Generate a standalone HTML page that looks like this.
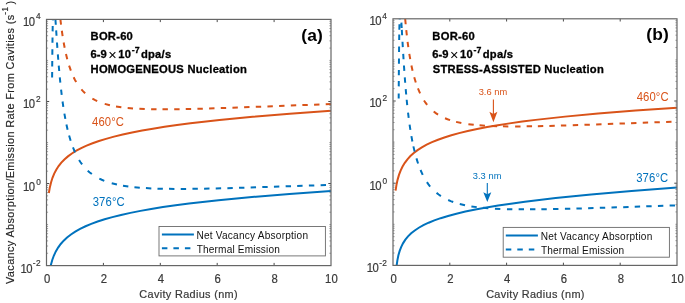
<!DOCTYPE html>
<html><head><meta charset="utf-8"><style>
html,body{margin:0;padding:0;background:#fff;width:685px;height:303px;overflow:hidden}
svg{display:block;filter:blur(0.3px)}
text{font-family:"Liberation Sans",sans-serif}
</style></head><body>
<svg width="685" height="303" viewBox="0 0 685 303">
<rect width="685" height="303" fill="#fff"/>
<clipPath id="clipL"><rect x="46.5" y="19.4" width="284.50" height="246.20"/></clipPath>
<g clip-path="url(#clipL)" fill="none" stroke-width="2">
<path d="M48.85,276.23 L49.75,270.25 L50.88,264.87 L52.26,259.97 L53.89,255.53 L55.82,251.42 L58.11,247.56 L60.73,243.98 L63.67,240.67 L67.07,237.51 L70.95,234.48 L75.26,231.64 L80.09,228.92 L85.56,226.28 L91.25,223.90 L97.61,221.57 L104.64,219.31 L112.35,217.12 L121.05,214.94 L130.43,212.86 L140.47,210.87 L151.19,208.96 L162.91,207.09 L175.63,205.25 L189.03,203.50 L218.49,200.16 L251.98,196.98 L289.48,193.97 L331.00,191.12" stroke="#0072BD"/>
<path d="M48.85,193.01 L49.83,187.43 L51.03,182.43 L52.49,177.81 L54.21,173.61 L56.26,169.67 L58.60,166.06 L61.32,162.63 L64.39,159.44 L67.93,156.38 L71.88,153.49 L76.35,150.72 L81.20,148.14 L86.56,145.67 L92.59,143.26 L98.95,141.02 L105.98,138.84 L114.02,136.64 L122.73,134.52 L132.10,132.49 L142.15,130.54 L152.86,128.67 L164.58,126.82 L176.97,125.04 L190.36,123.29 L219.50,119.97 L252.65,116.77 L289.81,113.71 L331.00,110.78" stroke="#D95319"/>
<path d="M52.12,77.51 L52.17,72.11 M52.21,66.47 L52.26,61.07 M52.32,54.64 L52.38,49.24 M52.46,42.83 L52.53,37.43 M52.62,31.37 L52.71,25.97 M52.83,20.37 L52.97,14.97 M53.18,9.37 L53.38,5.99 L53.61,3.99 M54.59,8.41 L55.03,13.79 M55.43,19.38 L55.79,24.76 M56.17,30.38 L56.52,35.77 M56.98,42.47 L57.36,47.86 M57.84,54.38 L58.26,59.76 M58.74,65.60 L59.21,70.98 M59.79,77.29 L60.33,82.66 M61.08,89.61 L61.71,94.97 M62.55,101.49 L63.31,106.83 M64.39,113.62 L65.34,118.94 M66.43,124.42 L67.61,129.69 M69.11,135.59 L70.64,140.76 M72.97,147.42 L75.06,152.40 M79.07,159.95 L80.53,162.21 L82.11,164.41 M87.71,170.63 L89.74,172.42 L91.86,174.08 M99.34,178.62 L101.78,179.77 L104.28,180.80 M111.72,183.26 L116.96,184.55 M122.99,185.71 L128.33,186.51 M134.43,187.22 L139.81,187.70 M145.93,188.12 L151.33,188.40 M157.48,188.63 L162.87,188.77 M169.02,188.87 L174.42,188.91 M180.73,188.92 L186.13,188.90 M192.44,188.84 L197.84,188.77 M204.09,188.67 L209.49,188.56 M215.73,188.43 L221.13,188.30 M227.37,188.14 L232.77,188.00 M239.01,187.82 L244.41,187.67 M250.65,187.48 L256.05,187.31 M262.29,187.11 L267.68,186.94 M273.93,186.74 L279.32,186.56 M285.64,186.36 L291.03,186.18 M297.18,185.97 L302.58,185.79 M308.89,185.58 L314.29,185.40 M320.61,185.19 L326.00,185.01" stroke="#0072BD"/>
<path d="M58.20,-3.99 L58.64,1.39 M59.20,7.62 L59.72,12.99 M60.39,19.21 L61.02,24.57 M61.83,30.77 L62.62,36.11 M63.66,42.49 L64.65,47.80 M65.98,54.02 L67.27,59.26 M69.10,65.58 L70.87,70.69 M73.65,77.27 L74.86,79.68 L76.18,82.04 M81.39,89.41 L83.21,91.41 L85.15,93.29 M92.39,98.60 L94.76,99.90 L97.19,101.07 M104.71,103.87 L109.92,105.26 M116.02,106.48 L121.36,107.29 M127.66,108.00 L133.04,108.45 M139.38,108.83 L144.77,109.05 M151.12,109.22 L156.52,109.30 M162.49,109.34 L167.89,109.33 M174.21,109.27 L179.61,109.20 M185.75,109.08 L191.15,108.97 M197.42,108.81 L202.82,108.66 M209.10,108.48 L214.49,108.31 M220.77,108.10 L226.16,107.92 M232.44,107.70 L237.83,107.51 M244.11,107.28 L249.50,107.08 M255.78,106.85 L261.17,106.65 M267.44,106.41 L272.84,106.21 M279.11,105.97 L284.51,105.77 M290.82,105.53 L296.22,105.32 M302.37,105.09 L307.76,104.89 M314.08,104.65 L319.48,104.45 M325.72,104.22 L331.00,104.02" stroke="#D95319"/>
</g>
<g stroke="#4a4a4a" stroke-width="1" fill="none">
<path d="M103.40,265.6 v-2.7 M103.40,19.4 v2.7"/>
<path d="M160.30,265.6 v-2.7 M160.30,19.4 v2.7"/>
<path d="M217.20,265.6 v-2.7 M217.20,19.4 v2.7"/>
<path d="M274.10,265.6 v-2.7 M274.10,19.4 v2.7"/>
<path d="M46.5,253.25 h1.6 M331.0,253.25 h-1.6" stroke-width="0.7" stroke="#777"/>
<path d="M46.5,246.02 h1.6 M331.0,246.02 h-1.6" stroke-width="0.7" stroke="#777"/>
<path d="M46.5,240.90 h1.6 M331.0,240.90 h-1.6" stroke-width="0.7" stroke="#777"/>
<path d="M46.5,236.92 h1.6 M331.0,236.92 h-1.6" stroke-width="0.7" stroke="#777"/>
<path d="M46.5,233.67 h1.6 M331.0,233.67 h-1.6" stroke-width="0.7" stroke="#777"/>
<path d="M46.5,230.92 h1.6 M331.0,230.92 h-1.6" stroke-width="0.7" stroke="#777"/>
<path d="M46.5,228.54 h1.6 M331.0,228.54 h-1.6" stroke-width="0.7" stroke="#777"/>
<path d="M46.5,226.44 h1.6 M331.0,226.44 h-1.6" stroke-width="0.7" stroke="#777"/>
<path d="M46.5,224.57 h1.6 M331.0,224.57 h-1.6" stroke-width="0.7" stroke="#777"/>
<path d="M46.5,212.21 h1.6 M331.0,212.21 h-1.6" stroke-width="0.7" stroke="#777"/>
<path d="M46.5,204.99 h1.6 M331.0,204.99 h-1.6" stroke-width="0.7" stroke="#777"/>
<path d="M46.5,199.86 h1.6 M331.0,199.86 h-1.6" stroke-width="0.7" stroke="#777"/>
<path d="M46.5,195.89 h1.6 M331.0,195.89 h-1.6" stroke-width="0.7" stroke="#777"/>
<path d="M46.5,192.64 h1.6 M331.0,192.64 h-1.6" stroke-width="0.7" stroke="#777"/>
<path d="M46.5,189.89 h1.6 M331.0,189.89 h-1.6" stroke-width="0.7" stroke="#777"/>
<path d="M46.5,187.51 h1.6 M331.0,187.51 h-1.6" stroke-width="0.7" stroke="#777"/>
<path d="M46.5,185.41 h1.6 M331.0,185.41 h-1.6" stroke-width="0.7" stroke="#777"/>
<path d="M46.5,183.53 h2.7 M331.0,183.53 h-2.7"/>
<path d="M46.5,171.18 h1.6 M331.0,171.18 h-1.6" stroke-width="0.7" stroke="#777"/>
<path d="M46.5,163.96 h1.6 M331.0,163.96 h-1.6" stroke-width="0.7" stroke="#777"/>
<path d="M46.5,158.83 h1.6 M331.0,158.83 h-1.6" stroke-width="0.7" stroke="#777"/>
<path d="M46.5,154.85 h1.6 M331.0,154.85 h-1.6" stroke-width="0.7" stroke="#777"/>
<path d="M46.5,151.60 h1.6 M331.0,151.60 h-1.6" stroke-width="0.7" stroke="#777"/>
<path d="M46.5,148.86 h1.6 M331.0,148.86 h-1.6" stroke-width="0.7" stroke="#777"/>
<path d="M46.5,146.48 h1.6 M331.0,146.48 h-1.6" stroke-width="0.7" stroke="#777"/>
<path d="M46.5,144.38 h1.6 M331.0,144.38 h-1.6" stroke-width="0.7" stroke="#777"/>
<path d="M46.5,142.50 h1.6 M331.0,142.50 h-1.6" stroke-width="0.7" stroke="#777"/>
<path d="M46.5,130.15 h1.6 M331.0,130.15 h-1.6" stroke-width="0.7" stroke="#777"/>
<path d="M46.5,122.92 h1.6 M331.0,122.92 h-1.6" stroke-width="0.7" stroke="#777"/>
<path d="M46.5,117.80 h1.6 M331.0,117.80 h-1.6" stroke-width="0.7" stroke="#777"/>
<path d="M46.5,113.82 h1.6 M331.0,113.82 h-1.6" stroke-width="0.7" stroke="#777"/>
<path d="M46.5,110.57 h1.6 M331.0,110.57 h-1.6" stroke-width="0.7" stroke="#777"/>
<path d="M46.5,107.82 h1.6 M331.0,107.82 h-1.6" stroke-width="0.7" stroke="#777"/>
<path d="M46.5,105.44 h1.6 M331.0,105.44 h-1.6" stroke-width="0.7" stroke="#777"/>
<path d="M46.5,103.34 h1.6 M331.0,103.34 h-1.6" stroke-width="0.7" stroke="#777"/>
<path d="M46.5,101.47 h2.7 M331.0,101.47 h-2.7"/>
<path d="M46.5,89.11 h1.6 M331.0,89.11 h-1.6" stroke-width="0.7" stroke="#777"/>
<path d="M46.5,81.89 h1.6 M331.0,81.89 h-1.6" stroke-width="0.7" stroke="#777"/>
<path d="M46.5,76.76 h1.6 M331.0,76.76 h-1.6" stroke-width="0.7" stroke="#777"/>
<path d="M46.5,72.79 h1.6 M331.0,72.79 h-1.6" stroke-width="0.7" stroke="#777"/>
<path d="M46.5,69.54 h1.6 M331.0,69.54 h-1.6" stroke-width="0.7" stroke="#777"/>
<path d="M46.5,66.79 h1.6 M331.0,66.79 h-1.6" stroke-width="0.7" stroke="#777"/>
<path d="M46.5,64.41 h1.6 M331.0,64.41 h-1.6" stroke-width="0.7" stroke="#777"/>
<path d="M46.5,62.31 h1.6 M331.0,62.31 h-1.6" stroke-width="0.7" stroke="#777"/>
<path d="M46.5,60.43 h1.6 M331.0,60.43 h-1.6" stroke-width="0.7" stroke="#777"/>
<path d="M46.5,48.08 h1.6 M331.0,48.08 h-1.6" stroke-width="0.7" stroke="#777"/>
<path d="M46.5,40.86 h1.6 M331.0,40.86 h-1.6" stroke-width="0.7" stroke="#777"/>
<path d="M46.5,35.73 h1.6 M331.0,35.73 h-1.6" stroke-width="0.7" stroke="#777"/>
<path d="M46.5,31.75 h1.6 M331.0,31.75 h-1.6" stroke-width="0.7" stroke="#777"/>
<path d="M46.5,28.50 h1.6 M331.0,28.50 h-1.6" stroke-width="0.7" stroke="#777"/>
<path d="M46.5,25.76 h1.6 M331.0,25.76 h-1.6" stroke-width="0.7" stroke="#777"/>
<path d="M46.5,23.38 h1.6 M331.0,23.38 h-1.6" stroke-width="0.7" stroke="#777"/>
<path d="M46.5,21.28 h1.6 M331.0,21.28 h-1.6" stroke-width="0.7" stroke="#777"/>
<rect x="46.5" y="19.4" width="284.50" height="246.20" stroke-width="1.2" stroke="#666"/>
</g>
<clipPath id="clipR"><rect x="393.0" y="18.8" width="284.00" height="246.60"/></clipPath>
<g clip-path="url(#clipR)" fill="none" stroke-width="2">
<path d="M395.57,279.94 L395.99,272.39 L396.59,265.91 L397.38,260.30 L398.40,255.33 L399.68,250.86 L401.24,246.83 L403.13,243.09 L405.35,239.67 L408.03,236.40 L411.15,233.33 L414.76,230.44 L418.81,227.75 L423.40,225.19 L428.65,222.71 L434.33,220.40 L440.68,218.17 L448.03,215.93 L456.39,213.70 L465.41,211.59 L475.44,209.51 L486.47,207.48 L498.17,205.54 L510.87,203.64 L524.91,201.74 L555.66,198.10 L591.10,194.55 L631.54,191.05 L677.00,187.61" stroke="#0072BD"/>
<path d="M395.57,190.70 L396.47,184.88 L397.61,179.61 L398.98,174.87 L400.61,170.54 L402.56,166.50 L404.82,162.79 L407.44,159.30 L410.39,156.08 L413.78,153.00 L417.57,150.11 L421.85,147.36 L426.64,144.72 L431.99,142.19 L438.00,139.73 L444.36,137.46 L451.38,135.27 L459.06,133.14 L467.75,131.02 L477.11,128.99 L487.14,127.06 L497.84,125.20 L509.54,123.38 L522.24,121.59 L535.61,119.88 L565.02,116.63 L598.11,113.55 L635.55,110.61 L677.00,107.82" stroke="#D95319"/>
<path d="M398.69,98.57 L398.72,93.44 M398.76,86.37 L398.80,80.97 M398.84,75.29 L398.88,69.89 M398.93,63.85 L398.98,58.45 M399.04,51.95 L399.10,46.55 M399.18,40.01 L399.26,34.61 M399.35,29.71 L399.46,24.31 M399.59,19.41 L399.82,14.02 M400.59,12.36 L401.06,17.74 M401.39,22.63 L401.71,28.02 M401.82,29.87 L402.13,35.26 M402.50,41.78 L402.81,47.17 M403.21,53.82 L403.54,59.21 M403.95,65.50 L404.32,70.89 M404.78,77.34 L405.19,82.72 M405.71,89.09 L406.18,94.47 M406.68,99.77 L407.22,105.15 M408.04,112.59 L408.69,117.95 M409.58,124.61 L410.38,129.95 M411.40,136.14 L412.38,141.45 M413.40,146.38 L414.62,151.64 M416.44,158.40 L418.07,163.55 M420.50,170.00 L422.73,174.91 M426.92,182.18 L428.48,184.39 L430.14,186.51 M436.53,192.89 L438.67,194.54 L440.89,196.07 M448.20,200.03 L450.69,201.07 L453.22,202.02 M459.76,204.01 L465.02,205.24 M471.40,206.39 L476.75,207.13 M482.91,207.80 L488.29,208.25 M494.93,208.67 L500.32,208.92 M506.95,209.13 L512.35,209.25 M518.64,209.33 L524.04,209.36 M530.00,209.35 L535.40,209.32 M541.35,209.26 L546.75,209.18 M553.05,209.08 L558.44,208.97 M564.90,208.83 L570.30,208.70 M576.43,208.54 L581.83,208.39 M588.12,208.22 L593.52,208.06 M599.81,207.87 L605.21,207.70 M611.50,207.51 L616.90,207.33 M623.19,207.13 L628.59,206.95 M634.72,206.75 L640.12,206.57 M646.24,206.37 L651.64,206.19 M657.93,205.98 L663.33,205.80 M669.62,205.59 L675.02,205.41" stroke="#0072BD"/>
<path d="M403.44,-4.34 L403.80,1.05 M404.25,7.28 L404.67,12.67 M405.19,18.90 L405.68,24.27 M406.26,30.10 L406.84,35.46 M407.60,41.80 L408.31,47.15 M409.31,53.85 L410.21,59.18 M411.41,65.43 L412.56,70.70 M414.23,77.28 L415.79,82.45 M417.94,88.46 L420.08,93.42 M423.98,100.48 L425.50,102.71 L427.14,104.86 M433.68,111.45 L435.83,113.09 L438.07,114.60 M445.01,118.22 L447.52,119.23 L450.06,120.14 M456.08,121.87 L461.35,123.02 M468.39,124.16 L473.75,124.81 M479.56,125.34 L484.95,125.70 M491.75,126.03 L497.15,126.21 M502.94,126.33 L508.34,126.39 M515.13,126.41 L520.53,126.38 M526.66,126.32 L532.06,126.24 M537.85,126.14 L543.25,126.02 M549.37,125.88 L554.77,125.73 M560.90,125.56 L566.29,125.40 M572.75,125.20 L578.15,125.02 M584.45,124.82 L589.84,124.63 M596.14,124.41 L601.53,124.23 M607.83,124.00 L613.23,123.81 M619.52,123.58 L624.92,123.39 M631.04,123.17 L636.44,122.97 M642.74,122.74 L648.13,122.55 M654.43,122.32 L659.82,122.13 M666.12,121.90 L671.51,121.71" stroke="#D95319"/>
</g>
<g stroke="#4a4a4a" stroke-width="1" fill="none">
<path d="M449.80,265.4 v-2.7 M449.80,18.8 v2.7"/>
<path d="M506.60,265.4 v-2.7 M506.60,18.8 v2.7"/>
<path d="M563.40,265.4 v-2.7 M563.40,18.8 v2.7"/>
<path d="M620.20,265.4 v-2.7 M620.20,18.8 v2.7"/>
<path d="M393.0,253.03 h1.6 M677.0,253.03 h-1.6" stroke-width="0.7" stroke="#777"/>
<path d="M393.0,245.79 h1.6 M677.0,245.79 h-1.6" stroke-width="0.7" stroke="#777"/>
<path d="M393.0,240.66 h1.6 M677.0,240.66 h-1.6" stroke-width="0.7" stroke="#777"/>
<path d="M393.0,236.67 h1.6 M677.0,236.67 h-1.6" stroke-width="0.7" stroke="#777"/>
<path d="M393.0,233.42 h1.6 M677.0,233.42 h-1.6" stroke-width="0.7" stroke="#777"/>
<path d="M393.0,230.67 h1.6 M677.0,230.67 h-1.6" stroke-width="0.7" stroke="#777"/>
<path d="M393.0,228.28 h1.6 M677.0,228.28 h-1.6" stroke-width="0.7" stroke="#777"/>
<path d="M393.0,226.18 h1.6 M677.0,226.18 h-1.6" stroke-width="0.7" stroke="#777"/>
<path d="M393.0,224.30 h1.6 M677.0,224.30 h-1.6" stroke-width="0.7" stroke="#777"/>
<path d="M393.0,211.93 h1.6 M677.0,211.93 h-1.6" stroke-width="0.7" stroke="#777"/>
<path d="M393.0,204.69 h1.6 M677.0,204.69 h-1.6" stroke-width="0.7" stroke="#777"/>
<path d="M393.0,199.56 h1.6 M677.0,199.56 h-1.6" stroke-width="0.7" stroke="#777"/>
<path d="M393.0,195.57 h1.6 M677.0,195.57 h-1.6" stroke-width="0.7" stroke="#777"/>
<path d="M393.0,192.32 h1.6 M677.0,192.32 h-1.6" stroke-width="0.7" stroke="#777"/>
<path d="M393.0,189.57 h1.6 M677.0,189.57 h-1.6" stroke-width="0.7" stroke="#777"/>
<path d="M393.0,187.18 h1.6 M677.0,187.18 h-1.6" stroke-width="0.7" stroke="#777"/>
<path d="M393.0,185.08 h1.6 M677.0,185.08 h-1.6" stroke-width="0.7" stroke="#777"/>
<path d="M393.0,183.20 h2.7 M677.0,183.20 h-2.7"/>
<path d="M393.0,170.83 h1.6 M677.0,170.83 h-1.6" stroke-width="0.7" stroke="#777"/>
<path d="M393.0,163.59 h1.6 M677.0,163.59 h-1.6" stroke-width="0.7" stroke="#777"/>
<path d="M393.0,158.46 h1.6 M677.0,158.46 h-1.6" stroke-width="0.7" stroke="#777"/>
<path d="M393.0,154.47 h1.6 M677.0,154.47 h-1.6" stroke-width="0.7" stroke="#777"/>
<path d="M393.0,151.22 h1.6 M677.0,151.22 h-1.6" stroke-width="0.7" stroke="#777"/>
<path d="M393.0,148.47 h1.6 M677.0,148.47 h-1.6" stroke-width="0.7" stroke="#777"/>
<path d="M393.0,146.08 h1.6 M677.0,146.08 h-1.6" stroke-width="0.7" stroke="#777"/>
<path d="M393.0,143.98 h1.6 M677.0,143.98 h-1.6" stroke-width="0.7" stroke="#777"/>
<path d="M393.0,142.10 h1.6 M677.0,142.10 h-1.6" stroke-width="0.7" stroke="#777"/>
<path d="M393.0,129.73 h1.6 M677.0,129.73 h-1.6" stroke-width="0.7" stroke="#777"/>
<path d="M393.0,122.49 h1.6 M677.0,122.49 h-1.6" stroke-width="0.7" stroke="#777"/>
<path d="M393.0,117.36 h1.6 M677.0,117.36 h-1.6" stroke-width="0.7" stroke="#777"/>
<path d="M393.0,113.37 h1.6 M677.0,113.37 h-1.6" stroke-width="0.7" stroke="#777"/>
<path d="M393.0,110.12 h1.6 M677.0,110.12 h-1.6" stroke-width="0.7" stroke="#777"/>
<path d="M393.0,107.37 h1.6 M677.0,107.37 h-1.6" stroke-width="0.7" stroke="#777"/>
<path d="M393.0,104.98 h1.6 M677.0,104.98 h-1.6" stroke-width="0.7" stroke="#777"/>
<path d="M393.0,102.88 h1.6 M677.0,102.88 h-1.6" stroke-width="0.7" stroke="#777"/>
<path d="M393.0,101.00 h2.7 M677.0,101.00 h-2.7"/>
<path d="M393.0,88.63 h1.6 M677.0,88.63 h-1.6" stroke-width="0.7" stroke="#777"/>
<path d="M393.0,81.39 h1.6 M677.0,81.39 h-1.6" stroke-width="0.7" stroke="#777"/>
<path d="M393.0,76.26 h1.6 M677.0,76.26 h-1.6" stroke-width="0.7" stroke="#777"/>
<path d="M393.0,72.27 h1.6 M677.0,72.27 h-1.6" stroke-width="0.7" stroke="#777"/>
<path d="M393.0,69.02 h1.6 M677.0,69.02 h-1.6" stroke-width="0.7" stroke="#777"/>
<path d="M393.0,66.27 h1.6 M677.0,66.27 h-1.6" stroke-width="0.7" stroke="#777"/>
<path d="M393.0,63.88 h1.6 M677.0,63.88 h-1.6" stroke-width="0.7" stroke="#777"/>
<path d="M393.0,61.78 h1.6 M677.0,61.78 h-1.6" stroke-width="0.7" stroke="#777"/>
<path d="M393.0,59.90 h1.6 M677.0,59.90 h-1.6" stroke-width="0.7" stroke="#777"/>
<path d="M393.0,47.53 h1.6 M677.0,47.53 h-1.6" stroke-width="0.7" stroke="#777"/>
<path d="M393.0,40.29 h1.6 M677.0,40.29 h-1.6" stroke-width="0.7" stroke="#777"/>
<path d="M393.0,35.16 h1.6 M677.0,35.16 h-1.6" stroke-width="0.7" stroke="#777"/>
<path d="M393.0,31.17 h1.6 M677.0,31.17 h-1.6" stroke-width="0.7" stroke="#777"/>
<path d="M393.0,27.92 h1.6 M677.0,27.92 h-1.6" stroke-width="0.7" stroke="#777"/>
<path d="M393.0,25.17 h1.6 M677.0,25.17 h-1.6" stroke-width="0.7" stroke="#777"/>
<path d="M393.0,22.78 h1.6 M677.0,22.78 h-1.6" stroke-width="0.7" stroke="#777"/>
<path d="M393.0,20.68 h1.6 M677.0,20.68 h-1.6" stroke-width="0.7" stroke="#777"/>
<rect x="393.0" y="18.8" width="284.00" height="246.60" stroke-width="1.2" stroke="#666"/>
</g>
<g fill="#3a3a3a" stroke="#3a3a3a" stroke-width="0.2"><text transform="translate(43.95,282.8) scale(1,1.07)" font-size="11.3">0</text><text transform="translate(100.85,282.8) scale(1,1.07)" font-size="11.3">2</text><text transform="translate(157.80,282.8) scale(1,1.07)" font-size="11.3">4</text><text transform="translate(214.62,282.8) scale(1,1.07)" font-size="11.3">6</text><text transform="translate(271.55,282.8) scale(1,1.07)" font-size="11.3">8</text><text transform="translate(325.10,282.8) scale(1,1.07)" font-size="11.3">10</text><text transform="translate(23.05,25.60) scale(1,1.13)" font-size="11.3" letter-spacing="-0.6">10</text><text transform="translate(35.90,19.10) scale(1,1.14)" font-size="8.3">4</text><text transform="translate(23.05,107.60) scale(1,1.13)" font-size="11.3" letter-spacing="-0.6">10</text><text transform="translate(36.10,101.70) scale(1,1.14)" font-size="8.3">2</text><text transform="translate(23.05,190.60) scale(1,1.13)" font-size="11.3" letter-spacing="-0.6">10</text><text transform="translate(36.20,184.60) scale(1,1.14)" font-size="8.3">0</text><text transform="translate(20.45,272.60) scale(1,1.13)" font-size="11.3" letter-spacing="-0.6">10</text><text transform="translate(32.85,266.40) scale(1,1.14)" font-size="8.3" letter-spacing="0.3">-2</text><text transform="translate(139.35,298.30) scale(1,1.05)" font-size="10.9" letter-spacing="0.34">Cavity Radius (nm)</text></g>
<g fill="#3a3a3a" stroke="#3a3a3a" stroke-width="0.2"><text transform="translate(390.45,282.8) scale(1,1.07)" font-size="11.3">0</text><text transform="translate(447.25,282.8) scale(1,1.07)" font-size="11.3">2</text><text transform="translate(504.10,282.8) scale(1,1.07)" font-size="11.3">4</text><text transform="translate(560.83,282.8) scale(1,1.07)" font-size="11.3">6</text><text transform="translate(617.65,282.8) scale(1,1.07)" font-size="11.3">8</text><text transform="translate(671.10,282.8) scale(1,1.07)" font-size="11.3">10</text><text transform="translate(369.45,25.10) scale(1,1.13)" font-size="11.3" letter-spacing="-0.6">10</text><text transform="translate(382.30,18.60) scale(1,1.14)" font-size="8.3">4</text><text transform="translate(369.45,107.10) scale(1,1.13)" font-size="11.3" letter-spacing="-0.6">10</text><text transform="translate(382.50,101.20) scale(1,1.14)" font-size="8.3">2</text><text transform="translate(369.45,190.10) scale(1,1.13)" font-size="11.3" letter-spacing="-0.6">10</text><text transform="translate(382.60,184.10) scale(1,1.14)" font-size="8.3">0</text><text transform="translate(366.85,272.10) scale(1,1.13)" font-size="11.3" letter-spacing="-0.6">10</text><text transform="translate(379.25,265.90) scale(1,1.14)" font-size="8.3" letter-spacing="0.3">-2</text><text transform="translate(486.15,298.30) scale(1,1.05)" font-size="10.9" letter-spacing="0.34">Cavity Radius (nm)</text></g>
<g transform="translate(14.0,284.4) rotate(-90)" fill="#262626" stroke="#262626" stroke-width="0.15"><text x="0.45" y="0" font-size="10.9" letter-spacing="0.378">Vacancy Absorption/Emission Rate From Cavities (s</text><text x="269.75" y="-6.1" font-size="8.3" letter-spacing="0.35">-1</text><text x="279.95" y="0" font-size="10.9">)</text></g>
<g fill="#000" stroke="#000" stroke-width="0.3">
<text x="90.55" y="40.40" font-size="11.2" font-weight="bold" letter-spacing="0.25">BOR-60</text>
<text x="90.50" y="58.30" font-size="11.2" font-weight="bold" letter-spacing="0.05">6-9</text>
<text x="108.30" y="60.10" font-size="14.5" stroke="none">×</text>
<text x="118.20" y="58.30" font-size="11.2" font-weight="bold" letter-spacing="0.25">10</text>
<text x="131.65" y="52.70" font-size="8.8" font-weight="bold" letter-spacing="0.2">-7</text>
<text x="140.95" y="58.30" font-size="11.2" font-weight="bold" letter-spacing="0.25">dpa/s</text>
<text x="90.55" y="73.40" font-size="11.2" font-weight="bold" letter-spacing="0.25">HOMOGENEOUS Nucleation</text>
</g>
<g fill="#000" stroke="#000" stroke-width="0.3">
<text x="432.35" y="40.40" font-size="11.2" font-weight="bold" letter-spacing="0.25">BOR-60</text>
<text x="432.30" y="58.30" font-size="11.2" font-weight="bold" letter-spacing="0.05">6-9</text>
<text x="450.10" y="60.10" font-size="14.5" stroke="none">×</text>
<text x="460.00" y="58.30" font-size="11.2" font-weight="bold" letter-spacing="0.25">10</text>
<text x="473.45" y="52.70" font-size="8.8" font-weight="bold" letter-spacing="0.2">-7</text>
<text x="482.75" y="58.30" font-size="11.2" font-weight="bold" letter-spacing="0.25">dpa/s</text>
<text x="432.80" y="73.40" font-size="11.2" font-weight="bold" letter-spacing="0.25">STRESS-ASSISTED Nucleation</text>
</g>
<text x="301.15" y="40.70" font-size="17.4" font-weight="bold" letter-spacing="0.25" fill="#000">(a)</text>
<text x="646.15" y="40.00" font-size="17.4" font-weight="bold" letter-spacing="0.25" fill="#000">(b)</text>
<text transform="translate(92.05,125.90) scale(1,1.06)" font-size="11.3" letter-spacing="0.12" fill="#D95319">460°C</text>
<text transform="translate(92.70,205.90) scale(1,1.06)" font-size="11.3" letter-spacing="0.12" fill="#0072BD">376°C</text>
<text transform="translate(636.65,100.90) scale(1,1.06)" font-size="11.3" letter-spacing="0.12" fill="#D95319">460°C</text>
<text transform="translate(636.20,181.60) scale(1,1.06)" font-size="11.3" letter-spacing="0.12" fill="#0072BD">376°C</text>
<text x="478.65" y="94.90" font-size="9.3" letter-spacing="0.05" fill="#D95319">3.6 nm</text>
<text x="472.75" y="179.20" font-size="9.3" letter-spacing="0.05" fill="#0072BD">3.3 nm</text>
<line x1="493.4" y1="99.6" x2="493.4" y2="114.5" stroke="#D95319" stroke-width="1.1"/><path d="M493.4,122.3 L489.4,111.8 L493.4,114.0 L497.4,111.8 Z" fill="#D95319"/>
<line x1="487.3" y1="183.0" x2="487.3" y2="194.8" stroke="#0072BD" stroke-width="1.1"/><path d="M487.3,202.0 L483.3,192.3 L487.3,194.3 L491.3,192.3 Z" fill="#0072BD"/>
<rect x="159.0" y="226.5" width="166.40" height="29.40" fill="#fff" stroke="#6a6a6a" stroke-width="0.9"/>
<line x1="161.9" y1="234.4" x2="193.9" y2="234.4" stroke="#0072BD" stroke-width="2"/>
<line x1="161.9" y1="248.2" x2="193.9" y2="248.2" stroke="#0072BD" stroke-width="2" stroke-dasharray="5.5 6"/>
<text x="196.40" y="238.60" font-size="10.1" letter-spacing="0.22" fill="#111">Net Vacancy Absorption</text>
<text x="196.70" y="252.70" font-size="10.1" letter-spacing="0.16" fill="#111">Thermal Emission</text>
<rect x="503.2" y="227.4" width="166.20" height="29.80" fill="#fff" stroke="#6a6a6a" stroke-width="0.9"/>
<line x1="505.8" y1="235.5" x2="537.9" y2="235.5" stroke="#0072BD" stroke-width="2"/>
<line x1="505.8" y1="249.4" x2="537.9" y2="249.4" stroke="#0072BD" stroke-width="2" stroke-dasharray="5.5 6"/>
<text x="540.70" y="239.90" font-size="10.1" letter-spacing="0.22" fill="#111">Net Vacancy Absorption</text>
<text x="541.00" y="253.70" font-size="10.1" letter-spacing="0.16" fill="#111">Thermal Emission</text>
</svg>
</body></html>
